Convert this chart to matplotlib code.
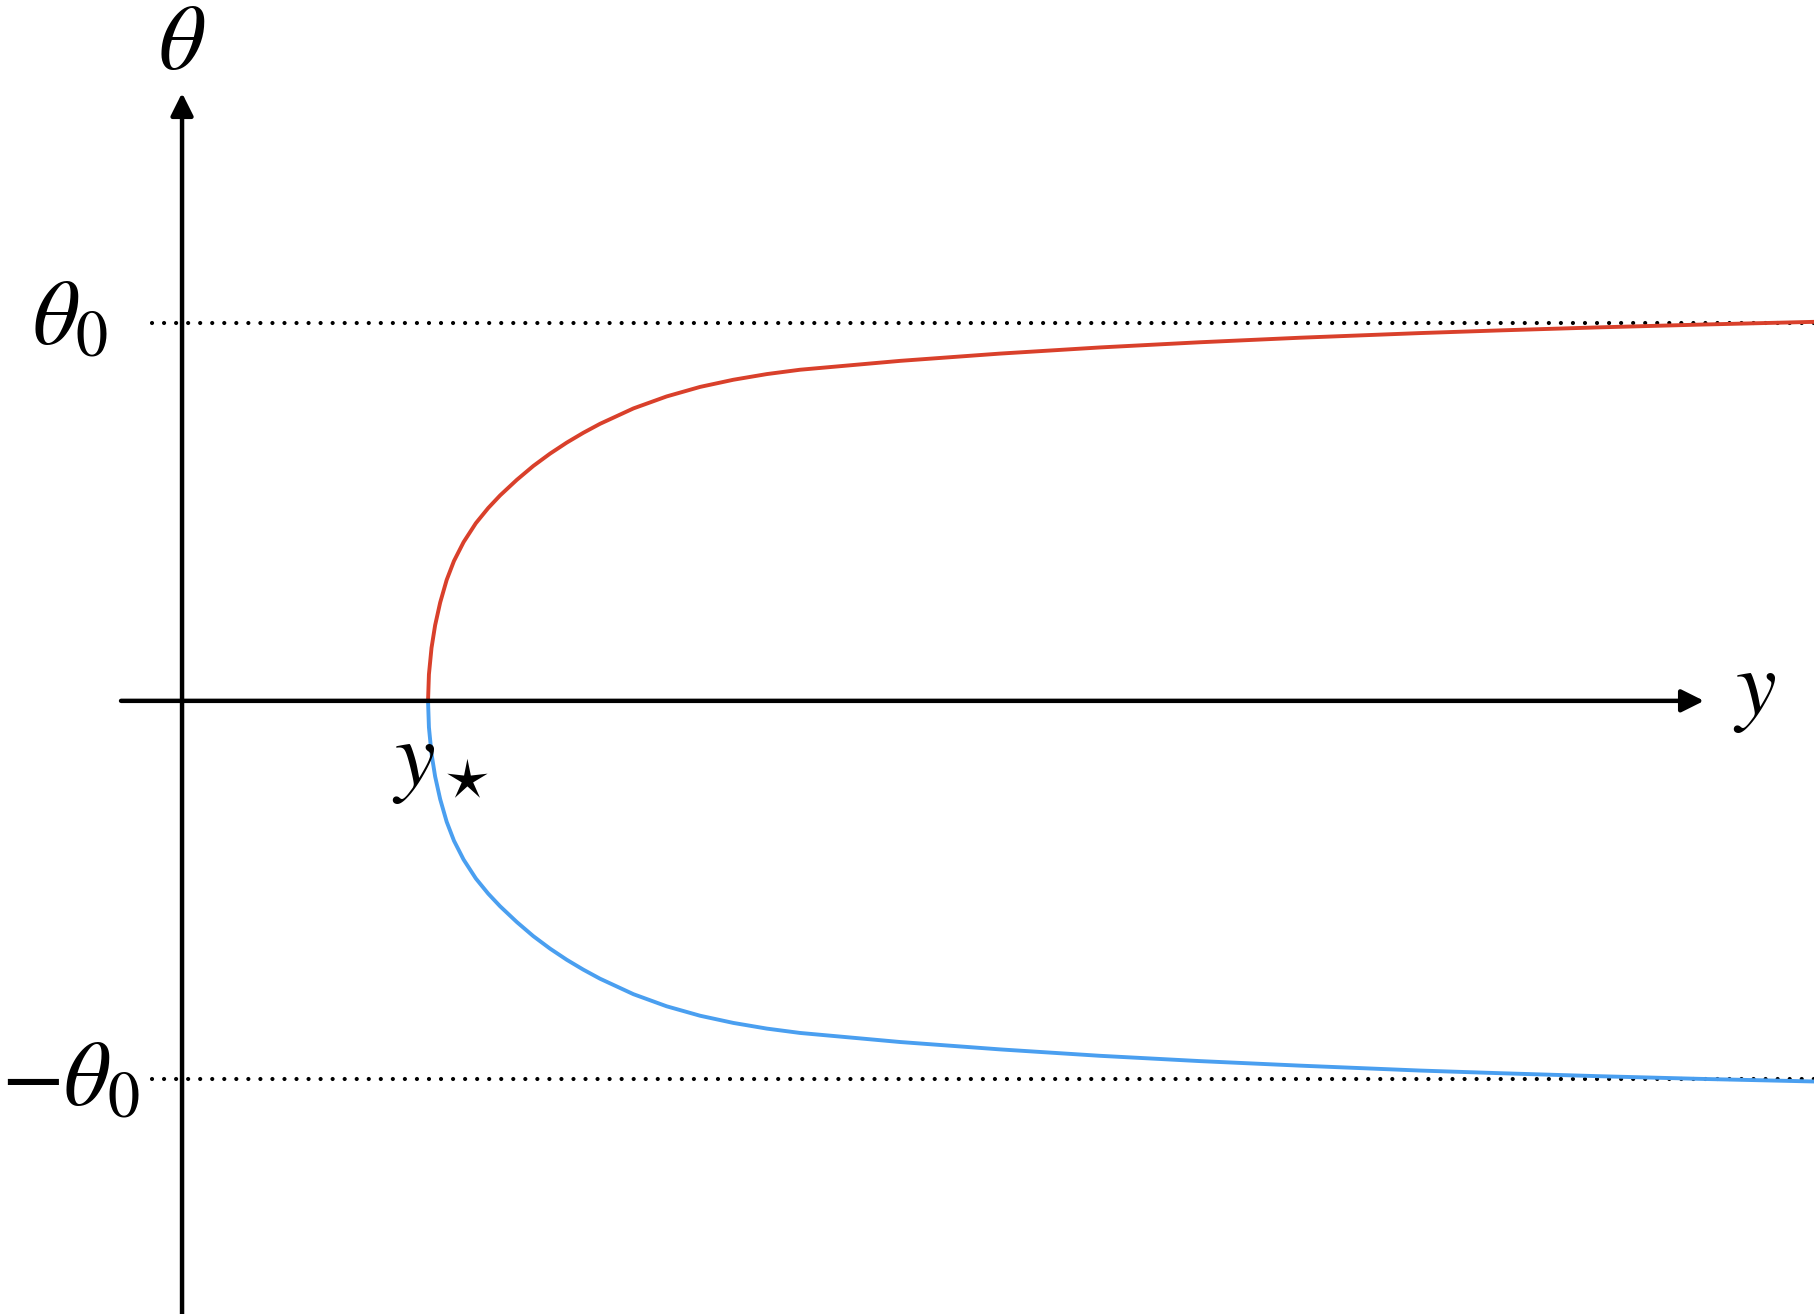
import matplotlib
matplotlib.use("Agg")
import matplotlib.pyplot as plt

plt.rcParams['mathtext.fontset'] = 'stix'

# valeurs (y en unités de y*, theta en unités de theta0)
y_upper = [1.000, 1.0036, 1.0141, 1.0288, 1.0493, 1.0758, 1.1054, 1.1446, 1.1944,
           1.2445, 1.293, 1.361, 1.428, 1.496, 1.564, 1.631, 1.699, 1.835, 1.970,
           2.106, 2.241, 2.377, 2.512, 2.919, 3.325, 3.732, 4.138, 4.545, 5.033,
           5.358, 5.764, 6.171, 6.640]
theta_upper = [0.000, 0.070, 0.140, 0.200, 0.260, 0.320, 0.370, 0.420, 0.470,
               0.510, 0.5435, 0.5847, 0.6214, 0.654, 0.6832, 0.709, 0.7328, 0.7736, 0.8053,
               0.8305, 0.8494, 0.8644, 0.8759, 0.8994, 0.9186, 0.9349, 0.9486, 0.9606, 0.9729,
               0.980, 0.9881, 0.9953, 1.0027]

y_lower = [1.000, 1.0036, 1.0141, 1.0288, 1.0493, 1.0758, 1.1054, 1.1446, 1.1944,
           1.2445, 1.293, 1.361, 1.428, 1.496, 1.564, 1.631, 1.699, 1.835, 1.970,
           2.106, 2.241, 2.377, 2.512, 2.919, 3.325, 3.732, 4.138, 4.545, 5.033,
           5.358, 5.764, 6.171, 6.640]
theta_lower = [0.000, -0.070, -0.140, -0.200, -0.260, -0.320, -0.370, -0.420, -0.470,
               -0.510, -0.5435, -0.5852, -0.6225, -0.6555, -0.6850, -0.7110, -0.7350, -0.7760, -0.8080,
               -0.8330, -0.8520, -0.8670, -0.8785, -0.9025, -0.9220, -0.9390, -0.9530, -0.9650, -0.9780,
               -0.9850, -0.9930, -1.0000, -1.0070]

theta0 = 1.0
y_star = 1.0

RED = '#d9402b'
BLUE = '#4a9ff0'

fig = plt.figure(figsize=(18.14, 13.14), dpi=100)
ax = fig.add_axes([0, 0, 1, 1])
ax.set_xlim(-0.740, 6.634)
ax.set_ylim(-1.622, 1.854)
ax.axis('off')

# lignes pointillées +/- theta0
for lev in (theta0, -theta0):
    ax.plot([-0.122, 6.634], [lev, lev], color='black', lw=3.0,
            linestyle=(0, (0.01, 2.88)), dash_capstyle='round')

# axes avec flèches
arr = dict(arrowstyle='-|>', lw=3.2, color='black', shrinkA=0, shrinkB=0,
           mutation_scale=34)
ax.annotate('', xy=(0, 1.608), xytext=(0, -1.63), arrowprops=arr)
ax.annotate('', xy=(6.187, 0), xytext=(-0.248, 0), arrowprops=arr)

# courbes
ax.plot(y_upper, theta_upper, color=RED, lw=2.8, solid_capstyle='butt',
        solid_joinstyle='round')
ax.plot(y_lower, theta_lower, color=BLUE, lw=2.8, solid_capstyle='butt',
        solid_joinstyle='round')

fs = 66
ax.text(0, 1.740, r'$\theta$', fontsize=fs, ha='center', va='center')
ax.text(-0.455, theta0 + 0.012, r'$\theta_0$', fontsize=fs, ha='center', va='center')
ax.text(-0.171, -theta0, r'$-\theta_0$', fontsize=fs, ha='right', va='center')
ax.text(6.394, 0.030, r'$y$', fontsize=fs, ha='center', va='center')
ax.text(y_star + 0.049, -0.160, r'$y_\star$', fontsize=fs, ha='center', va='center')

fig.savefig('out.png', dpi=100)
